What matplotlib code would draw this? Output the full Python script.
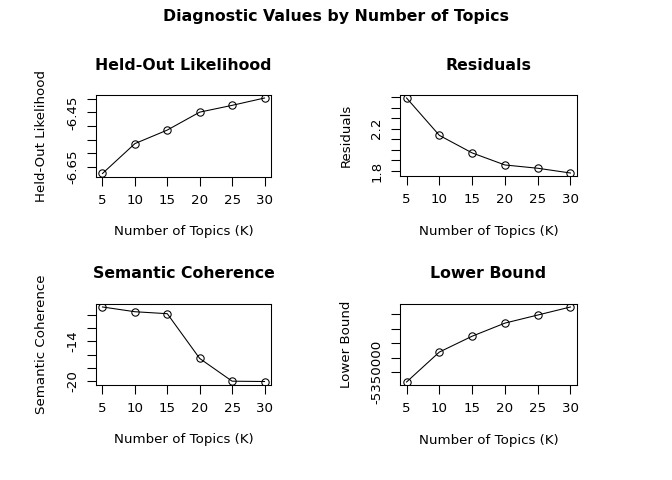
import matplotlib
matplotlib.use("Agg")
import matplotlib.pyplot as plt

K = [5, 10, 15, 20, 25, 30]
heldout = [-6.675, -6.565, -6.515, -6.449, -6.424, -6.397]
residuals = [2.49, 2.137, 1.971, 1.857, 1.826, 1.781]
semcoh = [-8.78, -9.5, -9.8, -16.6, -20.05, -20.1]
bound = [-5353370, -5343060, -5337600, -5333090, -5330310, -5327540]

x_ticks = [5, 10, 15, 20, 25, 30]
heldout_ticks = [-6.65, -6.60, -6.55, -6.50, -6.45, -6.40]
heldout_labels = ["-6.65", "", "", "", "-6.45", ""]
resid_ticks = [1.8, 1.9, 2.0, 2.1, 2.2, 2.3, 2.4, 2.5]
resid_labels = ["1.8", "", "", "", "2.2", "", "", ""]
semcoh_ticks = [-20, -18, -16, -14, -12, -10]
semcoh_labels = ["-20", "", "", "-14", "", ""]
bound_ticks = [-5350000, -5345000, -5340000, -5335000, -5330000]
bound_labels = ["-5350000", "", "", "", ""]

W, H = 672, 480
fig = plt.figure(figsize=(W / 96, H / 96), dpi=96)
FS = 10
TFS = 11.8

panels = [
    (96, 95, 175, 81.5, heldout, heldout_ticks, heldout_labels, "Held-Out Likelihood", "Held-Out Likelihood"),
    (400, 95, 177, 81, residuals, resid_ticks, resid_labels, "Residuals", "Residuals"),
    (96, 304, 175, 80.5, semcoh, semcoh_ticks, semcoh_labels, "Semantic Coherence", "Semantic Coherence"),
    (400, 304, 177, 81, bound, bound_ticks, bound_labels, "Lower Bound", "Lower Bound"),
]

for (px, py, pw, ph, vals, yt, yl, title, ylab) in panels:
    ax = fig.add_axes([px / W, 1 - (py + ph) / H, pw / W, ph / H])
    ax.plot(K, vals, color="black", lw=0.8, marker="o", markersize=5.5,
            markerfacecolor="none", markeredgecolor="black", markeredgewidth=0.8)
    lo, hi = min(vals), max(vals)
    ext = (hi - lo) * 0.04
    ax.set_ylim(lo - ext, hi + ext)
    ax.set_xlim(4, 31)
    ax.set_xticks(x_ticks)
    ax.set_xticklabels([str(v) for v in x_ticks], fontsize=FS)
    ax.set_yticks(yt)
    ax.set_yticklabels(yl, fontsize=FS, rotation=90, va="center")
    ax.tick_params(axis="both", direction="out", length=6.5, width=0.8, color="black")
    ax.tick_params(axis="x", pad=6.5)
    ax.tick_params(axis="y", pad=6)
    for s in ax.spines.values():
        s.set_linewidth(0.8)
    ax.set_xlabel("Number of Topics (K)", fontsize=FS)
    ax.xaxis.set_label_coords(0.5, -55.5 / ph)
    ax.xaxis.label.set_va("center")
    ax.set_ylabel(ylab, fontsize=FS)
    ax.yaxis.set_label_coords(-54 / pw, 0.5)
    ax.yaxis.label.set_va("center")
    ax.text(0.5, 1 + 30 / ph, title, transform=ax.transAxes, ha="center", va="center",
            fontsize=TFS, fontweight="bold")

fig.text(0.5, 1 - 17 / H, "Diagnostic Values by Number of Topics", ha="center", va="center",
         fontsize=TFS, fontweight="bold")

fig.savefig("out.png", dpi=96)
